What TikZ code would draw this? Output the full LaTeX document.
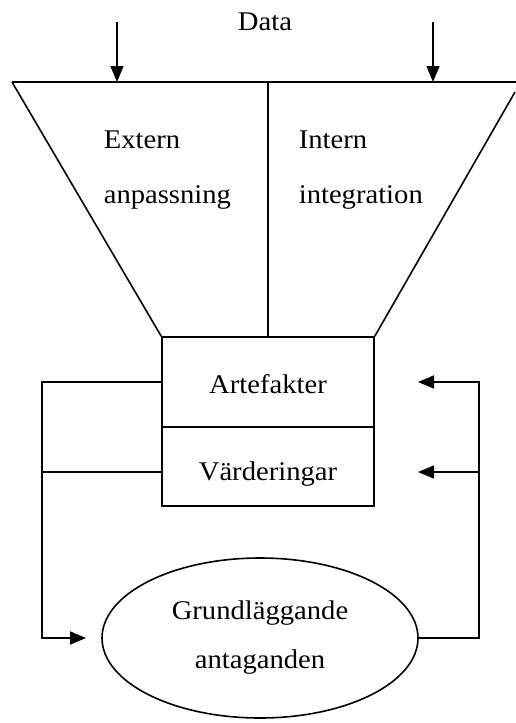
\documentclass[tikz,border=0pt]{standalone}
\usepackage{fontspec}
\setmainfont{Liberation Serif}[FakeStretch=1.06]
\usetikzlibrary{arrows.meta,shapes.geometric}
\begin{document}
\begin{tikzpicture}[x=1pt,y=-1pt,line width=1.6pt,
  lbl/.style={font=\fontsize{27}{49}\selectfont,inner sep=0pt},
  tip/.style={-{Triangle[length=16pt,width=13pt]}},
  boxpart/.style={draw,minimum width=212pt,inner sep=0pt,font=\fontsize{27}{49}\selectfont,text depth=0pt}]
\useasboundingbox (0,0) rectangle (516,723);
% box
\node[boxpart,minimum height=90pt,text height=22pt] (art) at (268,382) {Artefakter};
\node[boxpart,minimum height=79pt,text height=27pt] (vard) at (268,466.5) {Värderingar};
% ellipse
\node[draw,ellipse,minimum width=316pt,minimum height=160pt,inner sep=0pt,lbl,align=center] (ell) at (260,638) {Grundläggande\\antaganden};
% funnel
\coordinate (ftl) at (12,82);
\coordinate (ftr) at (516,82);
\coordinate (frs) at (515,92);
\coordinate (fmid) at (268,82);
\draw (ftl) -- (ftr);
\draw (ftl) -- (art.north west);
\draw (frs) -- (art.north east);
\draw (fmid) -- (art.north);
% labels
\node[lbl,anchor=base west] (ext) at (103,148) {Extern};
\node[lbl,anchor=base west] (anp) at (103,203) {anpassning};
\node[lbl,anchor=base west] (int) at (298,148) {Intern};
\node[lbl,anchor=base west] (intg) at (298,203) {integration};
\node[lbl,anchor=base] (data) at (265,30) {Data};
% data arrows
\coordinate (d1s) at (117,22);
\coordinate (d1e) at (117,82);
\coordinate (d2s) at (433,22);
\coordinate (d2e) at (433,82);
\draw[tip] (d1s) -- (d1e);
\draw[tip] (d2s) -- (d2e);
% left loop
\coordinate (lc) at (42,472);
\coordinate (lin) at (86,638);
\draw[tip] (art.west) -| (lc) |- (lin);
\draw ([yshift=-5.5pt]vard.west) -- (lc);
% right loop
\coordinate (rc) at (479,472);
\coordinate (rin1) at (418,382);
\coordinate (rin2) at (418,472);
\draw[tip] (ell.east) -| (rc) |- (rin1);
\draw[tip] (rc) -- (rin2);
\end{tikzpicture}
\end{document}
